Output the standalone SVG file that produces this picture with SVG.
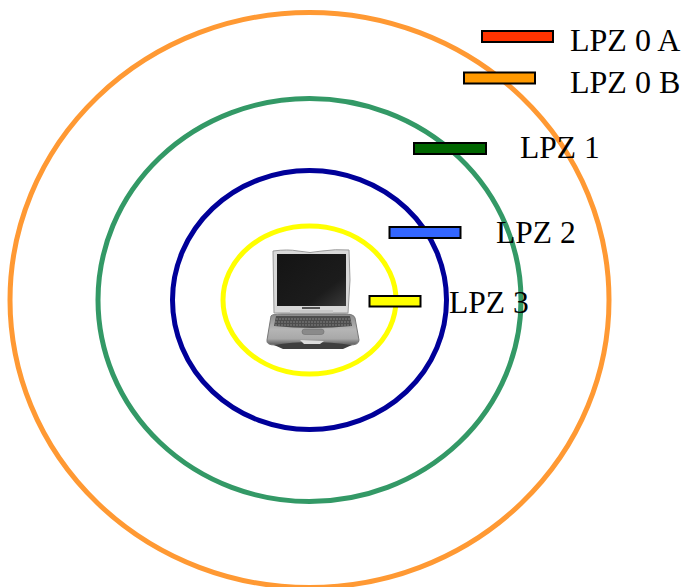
<svg xmlns="http://www.w3.org/2000/svg" width="683" height="587" viewBox="0 0 683 587">
  <defs>
    <linearGradient id="screen" x1="0" y1="0" x2="1" y2="1">
      <stop offset="0" stop-color="#141414"/>
      <stop offset="0.7" stop-color="#1c1c1c"/>
      <stop offset="1" stop-color="#3a3a3a"/>
    </linearGradient>
    <linearGradient id="body" x1="0" y1="0" x2="0" y2="1">
      <stop offset="0" stop-color="#8a8a8a"/>
      <stop offset="0.5" stop-color="#b5b5b5"/>
      <stop offset="0.8" stop-color="#a8a8a8"/>
      <stop offset="1" stop-color="#5a5a5a"/>
    </linearGradient>
  </defs>
  <style>
    .ring { fill: none; stroke-width: 5; }
    .bar { stroke: #000; stroke-width: 2; }
    text { font-family: "Liberation Serif", "Times New Roman", serif; font-size: 31.500px; fill: #000; }
    text.wide { font-size: 32px; }
  </style>
  <rect width="683" height="587" fill="#fff"/>

  <g id="zones">
    <ellipse id="ring-lpz0" class="ring" cx="309.500" cy="300" rx="299.500" ry="287.500" stroke="#ff9933"/>
    <ellipse id="ring-lpz1" class="ring" cx="309.500" cy="300" rx="211.500" ry="201.500" stroke="#339966"/>
    <ellipse id="ring-lpz2" class="ring" cx="309.500" cy="300" rx="137" ry="129.500" stroke="#000099"/>
    <ellipse id="ring-lpz3" class="ring" cx="309.500" cy="300" rx="86.500" ry="74" stroke="#ffff00"/>
  </g>

  <g id="laptop">
    <!-- lid and bezel -->
    <path d="M273 251 Q288 249 298 251 Q310 254 322 251 Q335 249 349 250 L350 280 L348 313 L274 313 Z" fill="#d8d8d8" stroke="#9a9a9a" stroke-width="1"/>
    <rect x="277" y="254" width="69" height="52" fill="url(#screen)"/>
    <rect x="302" y="307" width="18" height="2" fill="#555"/>
    <rect x="290" y="310" width="43" height="5" fill="#c8c8c8"/>
    <!-- base -->
    <path d="M271 316 Q272 314 282 314 L345 314 Q354 314 355 318 L359 340 Q359 345 350 345 L275 345 Q266 345 267 340 Z" fill="url(#body)" stroke="#777" stroke-width="1"/>
    <path d="M276 316 L350 316 L352 326 Q312 330 274 326 Z" fill="#4d4d4d"/>
    <path d="M276 319 H350 M275 322 H351 M275 325 H351" stroke="#999" stroke-width="0.700" stroke-dasharray="2 1" fill="none"/>
    <rect x="302" y="329" width="22" height="5.500" rx="2.700" fill="#8a8a8a" stroke="#666" stroke-width="0.500"/>
    <path d="M274 345 Q310 339 352 345 L343 349 L283 349 Z" fill="#3f3f3f"/>
    <path d="M300 340 L324 341 L320 344 L304 344 Z" fill="#ddd"/>
  </g>

  <g id="lpz-0-a">
    <rect class="bar" x="482" y="31" width="71" height="11" fill="#ff3300"/>
    <text class="wide" x="570" y="51">LPZ 0 A</text>
  </g>
  <g id="lpz-0-b">
    <rect class="bar" x="464" y="72.500" width="71" height="11" fill="#ff9900"/>
    <text class="wide" x="570" y="93">LPZ 0 B</text>
  </g>
  <g id="lpz-1">
    <rect class="bar" x="414" y="143" width="72" height="11" fill="#006600"/>
    <text x="520" y="158">LPZ 1</text>
  </g>
  <g id="lpz-2">
    <rect class="bar" x="389.500" y="227" width="71" height="11" fill="#3366ff"/>
    <text x="496" y="243">LPZ 2</text>
  </g>
  <g id="lpz-3">
    <rect class="bar" x="369.500" y="296" width="51" height="10.500" fill="#ffff00"/>
    <text x="449" y="313">LPZ 3</text>
  </g>

  <g id="connectors"/>
</svg>
